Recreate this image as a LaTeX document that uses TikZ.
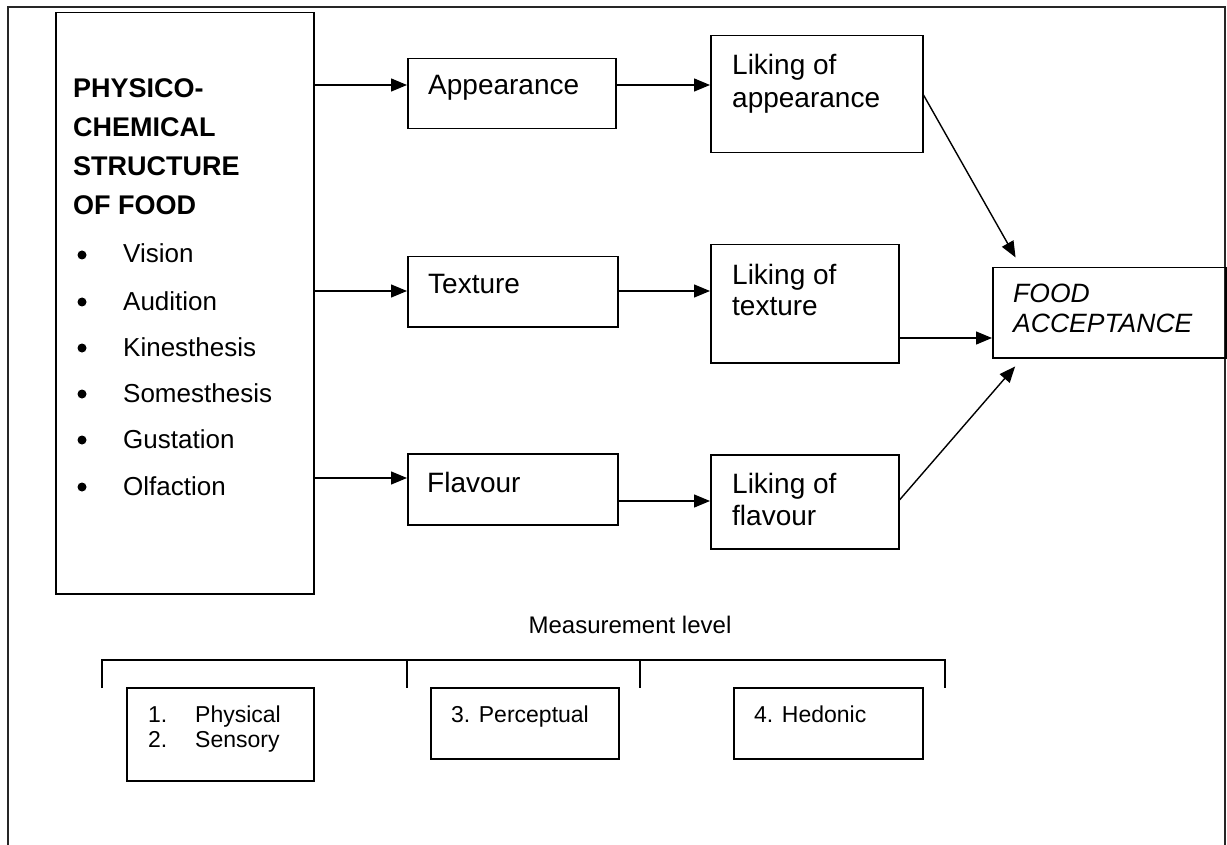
\documentclass[tikz,border=0pt]{standalone}
\usepackage{fontspec}
\setmainfont{Liberation Sans}
\usetikzlibrary{arrows.meta}
\begin{document}
\begin{tikzpicture}[x=1pt,y=-1pt,
  box/.style={draw, line width=1.5pt, inner sep=0pt, anchor=north west},
  frame/.style={draw, line width=1.2pt, black!85},
  arr/.style={line width=1.4pt, -{Triangle[length=16pt,width=13pt]}},
  brk/.style={line width=1.8pt},
  txt/.style={anchor=base west, inner sep=0pt, font=\fontsize{28}{33}\selectfont},
  head/.style={anchor=base west, inner sep=0pt, font=\fontsize{27}{32}\selectfont\bfseries},
  item/.style={anchor=base west, inner sep=0pt, font=\fontsize{26}{31}\selectfont},
  small/.style={anchor=base west, inner sep=0pt, font=\fontsize{23}{27}\selectfont},
  dot/.style={circle, fill, inner sep=0pt, minimum size=9pt},
  ital/.style={anchor=base west, inner sep=0pt, font=\fontsize{26.5}{31}\selectfont\itshape}]
\useasboundingbox (0,0) rectangle (1227,845);
% outer frame
\draw[frame] (8,845) -- (8,7) -- (1225,7) -- (1225,845);
% boxes
\node[box, minimum width=258pt, minimum height=581pt] (big) at (55,12) {};
\node[box, minimum width=208pt, minimum height=70pt] (app) at (407,58) {};
\node[box, minimum width=212pt, minimum height=117pt] (lapp) at (710,35) {};
\node[box, minimum width=210pt, minimum height=70pt] (tex) at (407,256) {};
\node[box, minimum width=188pt, minimum height=118pt] (ltex) at (710,244) {};
\node[box, minimum width=210pt, minimum height=71pt] (fla) at (407,453) {};
\node[box, minimum width=188pt, minimum height=94pt] (lfla) at (710,454) {};
\node[box, minimum width=233pt, minimum height=90pt] (food) at (992,267) {};
\node[box, minimum width=187pt, minimum height=93pt] (m1) at (126,687) {};
\node[box, minimum width=188pt, minimum height=71pt] (m3) at (430,687) {};
\node[box, minimum width=189pt, minimum height=71pt] (m4) at (733,687) {};
% big box text
\node[head] (h1) at (73,98) {PHYSICO-};
\node[head] (h2) at (73,137) {CHEMICAL};
\node[head] (h3) at (73,176) {STRUCTURE};
\node[head] (h4) at (73,215) {OF FOOD};
\node[dot] (d1) at (82,255) {};
\node[item] (i1) at (123,263) {Vision};
\node[dot] (d2) at (82,302) {};
\node[item] (i2) at (123,310) {Audition};
\node[dot] (d3) at (82,348) {};
\node[item] (i3) at (123,356) {Kinesthesis};
\node[dot] (d4) at (82,394) {};
\node[item] (i4) at (123,402) {Somesthesis};
\node[dot] (d5) at (82,440) {};
\node[item] (i5) at (123,448) {Gustation};
\node[dot] (d6) at (82,487) {};
\node[item] (i6) at (123,495) {Olfaction};
% other texts
\node[txt] (ta) at (428,95) {Appearance};
\node[txt] (tla1) at (732,75) {Liking of};
\node[txt] (tla2) at (732,108) {appearance};
\node[txt] (tt) at (428,294) {Texture};
\node[txt] (tlt1) at (732,284) {Liking of};
\node[txt] (tlt2) at (732,316) {texture};
\node[txt] (tf) at (427,492) {Flavour};
\node[txt] (tlf1) at (732,493) {Liking of};
\node[txt] (tlf2) at (732,525) {flavour};
\node[ital] (tfa1) at (1013,302) {FOOD};
\node[ital] (tfa2) at (1013,333) {ACCEPTANCE};
% arrows
\draw[arr] (big.east |- 0,85) -- (app.west |- 0,85);
\draw[arr] (app.east |- 0,85) -- (lapp.west |- 0,85);
\draw[arr] (big.east |- 0,291) -- (tex.west |- 0,291);
\draw[arr] (tex.east |- 0,291) -- (ltex.west |- 0,291);
\draw[arr] (big.east |- 0,478) -- (fla.west |- 0,478);
\draw[arr] (fla.east |- 0,501) -- (lfla.west |- 0,501);
\draw[arr] (ltex.east |- 0,338) -- (food.west |- 0,338);
\draw[arr, shorten >=11pt] (lapp.east |- 0,95) -- ([xshift=29pt]food.north west);
\draw[arr, shorten >=10.5pt] (lfla.east |- 0,500) -- ([xshift=30pt]food.south west);
% measurement level
\node[anchor=base, inner sep=0pt, font=\fontsize{24}{28}\selectfont] (ml) at (630,633) {Measurement level};
\coordinate (bl) at (102,660);
\coordinate (br) at (945,660);
\draw[brk] ([yshift=-28pt]bl) -- (bl) -- (br) -- ([yshift=-28pt]br);
\draw[brk] (407,660) -- (407,688);
\draw[brk] (640,660) -- (640,688);
\node[small] (n1) at (148,722) {1.};
\node[small] (p1) at (195,722) {Physical};
\node[small] (n2) at (148,747) {2.};
\node[small] (p2) at (195,747) {Sensory};
\node[small] (p3) at (451,722) {3. Perceptual};
\node[small] (p4) at (754,722) {4. Hedonic};
\end{tikzpicture}
\end{document}
